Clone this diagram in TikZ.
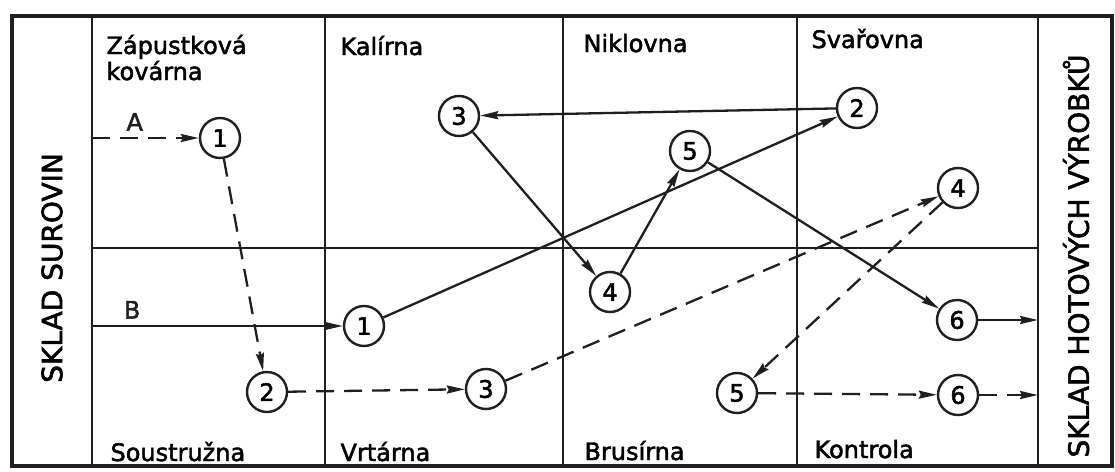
\documentclass[tikz,border=0pt]{standalone}
\usepackage{fontspec}
\setmainfont{DejaVu Sans}
\newfontfamily\lettering{DejaVu Sans}[FakeBold=2]
\usetikzlibrary{arrows.meta}

\begin{document}
\begin{tikzpicture}[
       x=1pt, y=-1pt,
       font=\lettering\fontsize{24}{26}\selectfont,
       frame/.style={line width=2.8pt, black!88},
       station/.style={circle, draw=black!88, line width=2.4pt, minimum size=40pt, inner sep=0pt},
       hall/.style={anchor=base west, align=left},
       store/.style={rotate=90, font=\lettering\fontsize{28}{32}\selectfont},
       flow/.style={-{Stealth[length=18pt, width=8pt, inset=2pt]}, line width=2.3pt, black!88},
       flowd/.style={flow, dash pattern=on 18pt off 10pt}
   ]
   \useasboundingbox (0,0) rectangle (1115,471);

   % hall grid
   \draw[frame, line width=3.3pt] (12,16) rectangle (1112,466);
   \draw[frame] (92,16) -- (92,466);
   \draw[frame] (325,16) -- (325,466);
   \draw[frame] (563,16) -- (563,466);
   \draw[frame] (797,16) -- (797,466);
   \draw[frame] (1038,16) -- (1038,466);
   \draw[frame] (92,248) -- (1038,248);

   % stores
   \node[store] (raw) at (52,268) {SKLAD SUROVIN};
   \node[store] (goods) at (1076,256) {SKLAD HOTOVÝCH VÝROBKŮ};

   % halls
   \node[hall] (forge) at (103,80) {Zápustková\\kovárna};
   \node[hall] (harden) at (337,55) {Kalírna};
   \node[hall] (nickel) at (580,52) {Niklovna};
   \node[hall] (weld) at (808,48) {Svařovna};
   \node[hall] (turn) at (107,461) {Soustružna};
   \node[hall] (drill) at (337,461) {Vrtárna};
   \node[hall] (grind) at (581,460) {Brusírna};
   \node[hall] (check) at (811,458) {Kontrola};

   % operations
   \node[station] (z1) at (220,138) {1};
   \node[station] (s2) at (267,392) {2};
   \node[station] (v1) at (364,326) {1};
   \node[station] (v3) at (486,389) {3};
   \node[station] (k3) at (459,116) {3};
   \node[station] (n5) at (690,151) {5};
   \node[station] (b4) at (610,292) {4};
   \node[station] (b5) at (737,393) {5};
   \node[station] (sv2) at (857,108) {2};
   \node[station] (sv4) at (958,188) {4};
   \node[station] (c6a) at (957,320) {6};
   \node[station] (c6b) at (958,395) {6};

   \coordinate (inA) at (92,138);
   \coordinate (inB) at (92,326);
   \coordinate (outA) at (1038,320);
   \coordinate (outB) at (1038,395);

   % part A
   \draw[flowd] (inA) -- node[above=3pt, pos=0.4] (labA) {A} (z1);
   \draw[flowd] (z1) -- (s2);
   \draw[flowd] (s2) -- (v3);
   \draw[flowd] (v3) -- (sv4);
   \draw[flowd] (sv4) -- (b5);
   \draw[flowd] (b5) -- (c6b);
   \draw[flowd] (c6b) -- (outB);

   % part B
   \draw[flow] (inB) -- node[above=3pt, pos=0.16] (labB) {B} (v1);
   \draw[flow] (v1) -- (sv2);
   \draw[flow] (sv2) -- (k3);
   \draw[flow] (k3) -- (b4);
   \draw[flow] (b4) -- (n5);
   \draw[flow] (n5) -- (c6a);
   \draw[flow] (c6a) -- (outA);
   \end{tikzpicture}
\end{document}
